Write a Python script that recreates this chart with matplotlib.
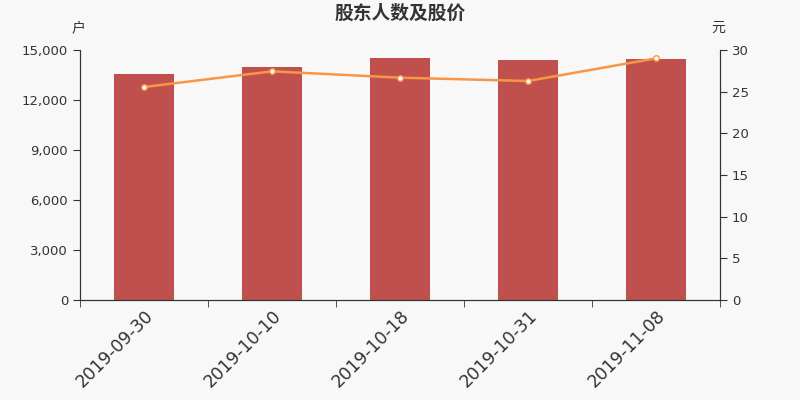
import matplotlib
matplotlib.use("Agg")
import matplotlib.pyplot as plt
from matplotlib.ticker import FuncFormatter, FixedLocator

plt.rcParams['font.family'] = ['DejaVu Sans', 'Noto Sans CJK SC']

dates = ["2019-09-30", "2019-10-10", "2019-10-18", "2019-10-31", "2019-11-08"]
holders = [13560, 13980, 14500, 14400, 14460]
prices = [25.56, 27.44, 26.68, 26.28, 29.0]

bg = "#f8f8f8"
cjk = ['Noto Sans CJK SC', 'DejaVu Sans']
fig = plt.figure(figsize=(8, 4), dpi=100, facecolor=bg)
ax = fig.add_axes([0.1, 0.25, 0.8, 0.625], facecolor=bg)
x = list(range(len(dates)))
ax.bar(x, holders, width=0.47, color="#c0504d", zorder=2)
ax.set_xlim(-0.5, len(dates) - 0.5)
ax.set_ylim(0, 15000)
ax.set_yticks([0, 3000, 6000, 9000, 12000, 15000])
ax.yaxis.set_major_formatter(FuncFormatter(lambda v, p: f"{int(v):,}"))
ax.set_xticks(x)
ax.set_xticklabels(dates, rotation=45, ha="right", rotation_mode="anchor", fontsize=12.5, color="#333333")
ax.tick_params(axis="x", which="major", length=0, pad=5)
ax.xaxis.set_minor_locator(FixedLocator([i - 0.5 for i in range(len(dates) + 1)]))
ax.tick_params(axis="x", which="minor", length=5, color="#333333")
ax.tick_params(axis="y", labelsize=9.5, colors="#333333", length=5)
ax.spines["top"].set_visible(False)
for s in ["left", "bottom", "right"]:
    ax.spines[s].set_color("#333333")

ax2 = ax.twinx()
ax2.plot(x, prices, color="#f79646", linewidth=1.8, marker="o", markersize=4,
         markerfacecolor="white", markeredgecolor="#f79646", markeredgewidth=1, zorder=3)
ax2.set_ylim(0, 30)
ax2.set_yticks([0, 5, 10, 15, 20, 25, 30])
ax2.tick_params(axis="y", labelsize=9.5, colors="#333333", length=5)
ax2.spines["top"].set_visible(False)
for s in ["left", "bottom", "right"]:
    ax2.spines[s].set_color("#333333")

fig.text(0.5, 0.967, "股东人数及股价", ha="center", va="center", fontsize=13.5, fontweight="bold", color="#333333", family=cjk)
fig.text(0.098, 0.93, "户", ha="center", va="center", fontsize=10, color="#333333", family=cjk)
fig.text(0.898, 0.93, "元", ha="center", va="center", fontsize=10, color="#333333", family=cjk)

fig.savefig("out.png", dpi=100, facecolor=bg)
